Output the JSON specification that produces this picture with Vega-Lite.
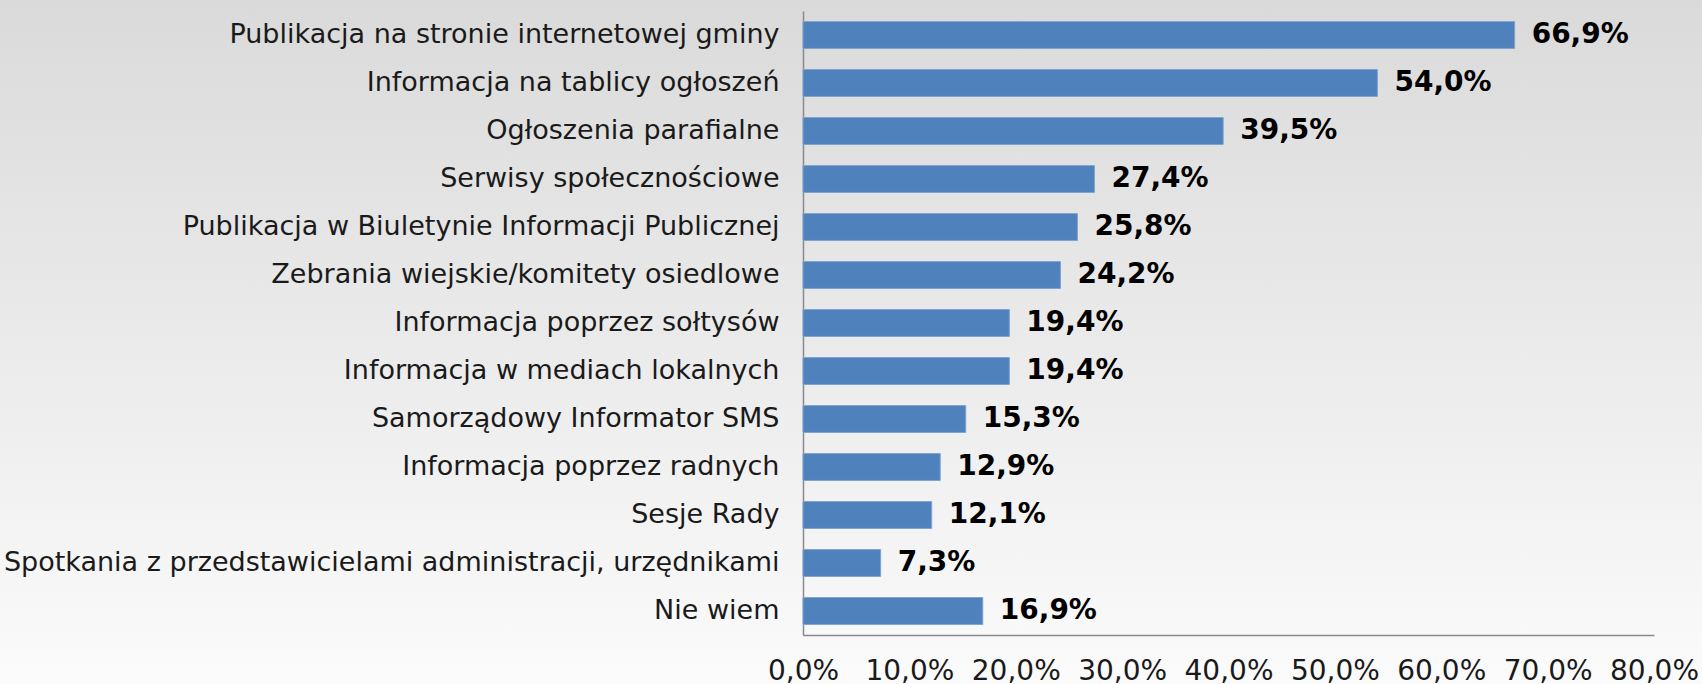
{
  "$schema": "https://vega.github.io/schema/vega-lite/v6.json",
  "width": 1702,
  "height": 684,
  "autosize": {"type": "none"},
  "padding": 0,
  "background": "#ececec",
  "config": {
    "locale": {"number": {"decimal": ",", "thousands": " ", "grouping": [3], "currency": ["", " zł"]}},
    "view": {
      "stroke": null,
      "fill": {"gradient": "linear", "x1": 0, "y1": 0, "x2": 0, "y2": 1, "stops": [{"offset": 0, "color": "#dadada"}, {"offset": 1, "color": "#fbfbfb"}]}
    },
    "font": "DejaVu Sans"
  },
  "data": {
    "values": [
      {"kategoria": "Publikacja na stronie internetowej gminy", "udzial": 0.669},
      {"kategoria": "Informacja na tablicy ogłoszeń", "udzial": 0.540},
      {"kategoria": "Ogłoszenia parafialne", "udzial": 0.395},
      {"kategoria": "Serwisy społecznościowe", "udzial": 0.274},
      {"kategoria": "Publikacja w Biuletynie Informacji Publicznej", "udzial": 0.258},
      {"kategoria": "Zebrania wiejskie/komitety osiedlowe", "udzial": 0.242},
      {"kategoria": "Informacja poprzez sołtysów", "udzial": 0.194},
      {"kategoria": "Informacja w mediach lokalnych", "udzial": 0.194},
      {"kategoria": "Samorządowy Informator SMS", "udzial": 0.153},
      {"kategoria": "Informacja poprzez radnych", "udzial": 0.129},
      {"kategoria": "Sesje Rady", "udzial": 0.121},
      {"kategoria": "Spotkania z przedstawicielami administracji, urzędnikami", "udzial": 0.073},
      {"kategoria": "Nie wiem", "udzial": 0.169}
    ]
  },
  "encoding": {
    "y": {
      "field": "kategoria",
      "type": "nominal",
      "sort": null,
      "scale": {"range": [11, 635], "paddingInner": 0.44, "paddingOuter": 0.22},
      "axis": {
        "title": null,
        "orient": "left",
        "offset": -803,
        "ticks": false,
        "domainColor": "#8a8a8a",
        "domainWidth": 1.5,
        "labelFont": "DejaVu Sans",
        "labelFontSize": 27,
        "labelColor": "#1a1a1a",
        "labelPadding": 24,
        "labelLimit": 1000
      }
    },
    "x": {
      "field": "udzial",
      "type": "quantitative",
      "scale": {"domain": [0, 0.8], "range": [803, 1654], "nice": false, "zero": true},
      "axis": {
        "title": null,
        "orient": "bottom",
        "offset": -49,
        "format": ".1%",
        "values": [0, 0.1, 0.2, 0.3, 0.4, 0.5, 0.6, 0.7, 0.8],
        "grid": false,
        "ticks": false,
        "domainColor": "#8a8a8a",
        "domainWidth": 1.5,
        "labelFont": "DejaVu Sans",
        "labelFontSize": 28,
        "labelColor": "#1a1a1a",
        "labelPadding": 22,
        "labelFlush": false,
        "labelOverlap": false
      }
    }
  },
  "layer": [
    {
      "mark": {"type": "bar", "color": "#4f81bd", "stroke": "#7fa3d1", "strokeWidth": 1}
    },
    {
      "mark": {"type": "text", "align": "left", "baseline": "middle", "dx": 17, "font": "DejaVu Sans", "fontWeight": "bold", "fontSize": 28, "color": "#000000"},
      "encoding": {
        "text": {"field": "udzial", "type": "quantitative", "format": ".1%"}
      }
    }
  ]
}
